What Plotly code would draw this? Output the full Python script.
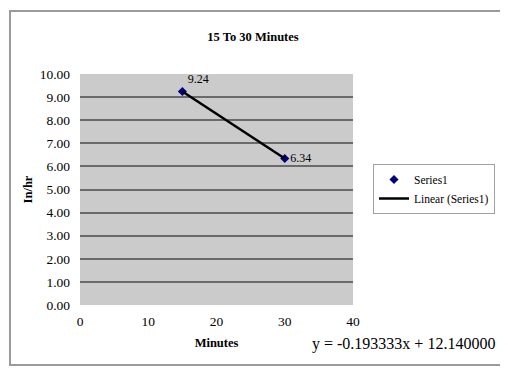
import plotly.graph_objects as go

minutes = [15, 30]
rate = [9.24, 6.34]
rate_labels = ['9.24', '6.34']
slope = -0.193333
intercept = 12.14
x_ticks = [0, 10, 20, 30, 40]
y_ticks = [0, 1, 2, 3, 4, 5, 6, 7, 8, 9, 10]

trend_y = [slope * m + intercept for m in minutes]

serif = 'Liberation Serif, Times New Roman, serif'

fig = go.Figure()
fig.add_trace(go.Scatter(
    x=minutes, y=rate, mode='markers+text', name='Series1',
    marker={'symbol': 'diamond', 'size': 7, 'color': '#000080'},
    text=rate_labels, textposition=['top right', 'middle right'],
    textfont={'family': serif, 'size': 12, 'color': 'black'}))
fig.add_trace(go.Scatter(
    x=minutes, y=trend_y, mode='lines', name='Linear (Series1)',
    line={'width': 2.5, 'color': 'black'}))

# page body adds an 8px offset, so the figure is 8px smaller
fig.update_layout(
    width=500, height=362,
    margin={'l': 72, 'r': 155, 't': 66, 'b': 65},
    paper_bgcolor='white', plot_bgcolor='#cbcbcb',
    font={'family': serif, 'size': 12, 'color': 'black'},
    title={'text': '<b>15 To 30 Minutes</b>', 'x': (253 - 8) / 500, 'xanchor': 'center',
           'y': 1 - 29 / 362, 'yanchor': 'middle', 'font': {'size': 12.5}},
    legend={'x': (373 - 80) / 273, 'y': (305 - 164) / 231, 'xanchor': 'left', 'yanchor': 'top',
            'bordercolor': '#a0a0a0', 'borderwidth': 1, 'bgcolor': 'white',
            'font': {'size': 11.5}, 'tracegroupgap': 0, 'itemwidth': 30},
    showlegend=True,
)
fig.update_xaxes(range=[0, 40], tickvals=x_ticks, showgrid=False, zeroline=False,
                 ticks='', tickfont={'size': 13.5}, ticklabelstandoff=6,
                 title_text='<b>Minutes</b>', title_standoff=10, title_font={'size': 12.5})
fig.update_yaxes(range=[0, 10], tickvals=y_ticks, tickformat='.2f', showgrid=True,
                 gridcolor='#6a6a6a', gridwidth=2, zeroline=False, ticks='',
                 tickfont={'size': 13.5}, ticklabelstandoff=9,
                 title_text='<b>In/hr</b>', title_standoff=4, title_font={'size': 12.5})

fig.add_annotation(text='y = -0.193333x + 12.140000', xref='paper', yref='paper',
                   x=(497 - 80) / 273, y=-(344 - 305) / 231, xanchor='right',
                   yanchor='middle', showarrow=False, font={'size': 16})

fig.add_shape(type='rect', xref='paper', yref='paper',
              x0=-(70 / 273), x1=(503 - 80) / 273,
              y0=-(60 / 231), y1=(305 - 11) / 231,
              line={'color': '#9a9a9a', 'width': 2})

fig.write_html('out.html')
